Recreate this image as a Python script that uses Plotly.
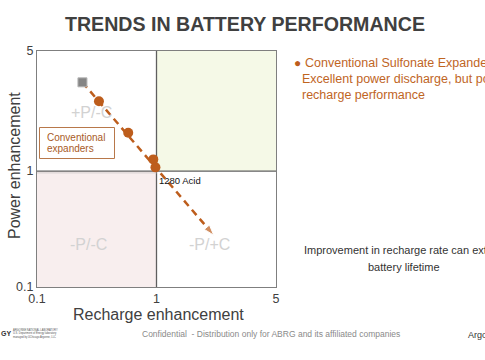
import plotly.graph_objects as go
import math

# ---- data ----
recharge_exp = [0.33, 0.58, 0.94, 0.98]      # conventional expanders (circles)
power_exp = [3.99, 2.14, 1.26, 1.076]
recharge_base = [0.24]                        # grey square
power_base = [5.82]
trend_recharge = [0.24, 3.01]                 # dashed trend arrow
trend_power = [5.82, 0.28]
tick_vals = [0.1, 1, 10.84]
tick_text = ["0.1", "1", "5"]

W, H = 485, 360
L, R, T, B = 37, 276, 51, 287
XR = [-1, 1]
YR = [-1, 1.035]

def px(x):
    return (x - L) / (R - L)

def py(y):
    return (B - y) / (B - T)

def dx(v):
    return (math.log10(v) - XR[0]) / (XR[1] - XR[0])

def dy(v):
    return (math.log10(v) - YR[0]) / (YR[1] - YR[0])

ORANGE = "#bd5d1c"
TXT_OR = "#c0651f"
FONT = "Liberation Sans, Arial, sans-serif"

fig = go.Figure()

fig.add_trace(go.Scatter(
    x=trend_recharge, y=trend_power, mode="lines+markers",
    line=dict(color=ORANGE, width=2.5, dash="7px,5px"),
    marker=dict(size=[0, 11], symbol="arrow", angleref="previous", color=ORANGE),
    hoverinfo="skip", showlegend=False))

fig.add_trace(go.Scatter(
    x=recharge_base, y=power_base, mode="markers",
    marker=dict(symbol="square", size=9, color="#858585", line=dict(color="#b5b5b5", width=1)),
    showlegend=False))

fig.add_trace(go.Scatter(
    x=recharge_exp, y=power_exp, mode="markers",
    marker=dict(symbol="circle", size=10, color=ORANGE),
    showlegend=False))

cx = dx(1)
cy = dy(1)
shapes = [
    dict(type="rect", xref="paper", yref="paper", x0=cx, x1=1, y0=cy, y1=1,
         fillcolor="#f5f9e7", line=dict(width=0), layer="below"),
    dict(type="rect", xref="paper", yref="paper", x0=0, x1=cx, y0=0, y1=cy,
         fillcolor="#f8eeee", line=dict(width=0), layer="below"),
    dict(type="line", xref="paper", yref="paper", x0=cx, x1=cx, y0=0, y1=1,
         line=dict(color="#5f5f5f", width=1.3), layer="below"),
    dict(type="line", xref="paper", yref="paper", x0=0, x1=1, y0=cy, y1=cy,
         line=dict(color="#5f5f5f", width=1.3), layer="below"),
    dict(type="line", xref="paper", yref="paper", x0=0, x1=cx, y0=cy - 0.008, y1=cy - 0.008,
         line=dict(color="#d6d0d0", width=1), layer="below"),
    # conventional expanders box
    dict(type="rect", xref="paper", yref="paper", x0=px(39.5), x1=px(114.5), y0=py(158.5), y1=py(127.5),
         fillcolor="white", line=dict(color="#b8784a", width=1)),
]

ann = []
def add(text, x, y, size, color="#404040", xanchor="center", yanchor="middle", bold=False, align="center", angle=0):
    if bold:
        text = "<b>" + text + "</b>"
    ann.append(dict(text=text, x=px(x), y=py(y), xref="paper", yref="paper", showarrow=False,
                    xanchor=xanchor, yanchor=yanchor, align=align, textangle=angle,
                    font=dict(family=FONT, size=size, color=color)))

add("TRENDS IN BATTERY PERFORMANCE", 245, 24, 19.6, "#404040", bold=True)
add("Recharge enhancement", 158, 314, 16, "#404040")
add("Power enhancement", 14, 166, 16, "#404040", angle=-90)

add("+P/-C", 91, 112, 16, "#d2d2d2")
add("-P/-C", 88.5, 244, 16, "#d2d2d2")
add("-P/+C", 209, 244, 16, "#d2d2d2")

add("Conventional", 45, 137, 10, "#a85a26", xanchor="left")
add("expanders", 45, 148.5, 10, "#a85a26", xanchor="left")
add("1280 Acid", 156.5, 180, 9.5, "#111111", xanchor="left")

add("●", 297, 63, 12, ORANGE)
add("Conventional Sulfonate Expanders", 302.5, 63, 12.5, TXT_OR, xanchor="left")
add("Excellent power discharge, but poor", 300, 79, 12.5, TXT_OR, xanchor="left")
add("recharge performance", 300, 95, 12.5, TXT_OR, xanchor="left")

add("Improvement in recharge rate can extend", 302, 250, 11, "#333333", xanchor="left")
add("battery lifetime", 404, 267, 11, "#333333")

add("Confidential  - Distribution only for ABRG and its affiliated companies", 271, 334, 8.5, "#8a8a8a")
add("Argonne", 466, 335, 9, "#333333", xanchor="left")
add("GY", -1, 333.5, 7, "#333333", xanchor="left", bold=True)
add("ARGONNE NATIONAL LABORATORY<br>U.S. Department of Energy laboratory<br>managed by UChicago Argonne, LLC", 11, 333.5, 2.6, "#555555", xanchor="left", align="left")

fig.update_layout(
    width=W, height=H,
    margin=dict(l=L, r=W - R, t=T, b=H - B, pad=0),
    paper_bgcolor="white", plot_bgcolor="white",
    shapes=shapes, annotations=ann, showlegend=False,
    font=dict(family=FONT, color="#404040"),
)
fig.update_xaxes(type="log", range=XR, tickvals=[0.1, 1, 10], ticktext=tick_text,
                 showgrid=False, zeroline=False, showline=True, mirror=True,
                 linecolor="#7f7f7f", linewidth=1, ticks="",
                 tickfont=dict(family=FONT, size=12.5, color="#404040"))
fig.update_yaxes(type="log", range=YR, tickvals=tick_vals, ticktext=tick_text,
                 showgrid=False, zeroline=False, showline=True, mirror=True,
                 linecolor="#7f7f7f", linewidth=1, ticks="",
                 tickfont=dict(family=FONT, size=12.5, color="#404040"))

fig.write_html("out.html", config={"displayModeBar": False},
               post_script="document.body.style.margin='0';document.body.style.overflow='hidden';")
